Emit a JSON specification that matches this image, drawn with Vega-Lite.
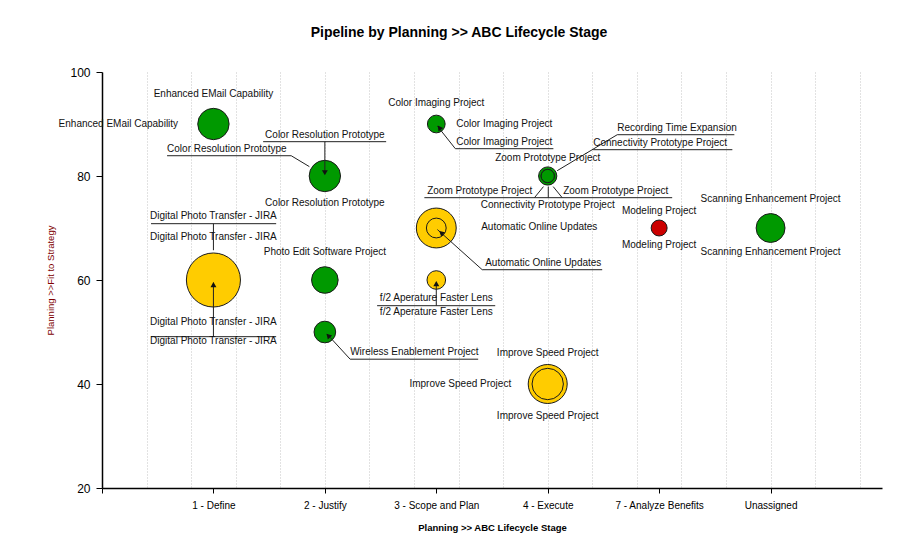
{
  "$schema": "https://vega.github.io/schema/vega-lite/v6.json",
  "width": 780,
  "height": 416,
  "autosize": {"type": "none"},
  "padding": {"left": 102, "top": 72, "right": 35, "bottom": 71},
  "background": "white",
  "title": {"text": "Pipeline by Planning  >> ABC Lifecycle Stage", "font": "Liberation Sans", "fontSize": 14, "fontWeight": "bold", "color": "black", "dx": -33, "offset": 26},
  "config": {"view": {"stroke": null}, "font": "Liberation Sans"},
  "datasets": {
    "projects": [
      {"project": "Enhanced EMail Capability", "stage": "1 - Define", "fit": 90, "status": "Green", "value": 313},
      {"project": "Color Resolution Prototype", "stage": "2 - Justify", "fit": 80, "status": "Green", "value": 313},
      {"project": "Digital Photo Transfer - JIRA", "stage": "1 - Define", "fit": 60, "status": "Yellow", "value": 930},
      {"project": "Photo Edit Software Project", "stage": "2 - Justify", "fit": 60, "status": "Green", "value": 225},
      {"project": "Wireless Enablement Project", "stage": "2 - Justify", "fit": 50, "status": "Green", "value": 149},
      {"project": "Color Imaging Project", "stage": "3 - Scope and Plan", "fit": 90, "status": "Green", "value": 100},
      {"project": "Automatic Online Updates", "stage": "3 - Scope and Plan", "fit": 70, "status": "Yellow", "value": 506},
      {"project": "Automatic Online Updates", "stage": "3 - Scope and Plan", "fit": 70, "status": "Yellow", "value": 125},
      {"project": "f/2 Aperature Faster Lens", "stage": "3 - Scope and Plan", "fit": 60, "status": "Yellow", "value": 110},
      {"project": "Zoom Prototype Project", "stage": "4 - Execute", "fit": 80, "status": "Green", "value": 106},
      {"project": "Connectivity Prototype Project", "stage": "4 - Execute", "fit": 80, "status": "Green", "value": 56},
      {"project": "Recording Time Expansion", "stage": "4 - Execute", "fit": 80, "status": "Green", "value": 56},
      {"project": "Improve Speed Project", "stage": "4 - Execute", "fit": 40, "status": "Yellow", "value": 484},
      {"project": "Improve Speed Project", "stage": "4 - Execute", "fit": 40, "status": "Yellow", "value": 313},
      {"project": "Modeling Project", "stage": "7 - Analyze Benefits", "fit": 70, "status": "Red", "value": 81},
      {"project": "Scanning Enhancement Project", "stage": "Unassigned", "fit": 70, "status": "Green", "value": 266}
    ],
    "labels": [
      {"text": "Enhanced EMail Capability", "x": 1, "y": 95.8, "anchor": "center"},
      {"text": "Color Resolution Prototype", "x": 2, "y": 87.9, "anchor": "center"},
      {"text": "Color Resolution Prototype", "x": 2, "y": 74.9, "anchor": "center"},
      {"text": "Digital Photo Transfer - JIRA", "x": 1, "y": 72.4, "anchor": "center"},
      {"text": "Digital Photo Transfer - JIRA", "x": 1, "y": 68.3, "anchor": "center"},
      {"text": "Digital Photo Transfer - JIRA", "x": 1, "y": 52.0, "anchor": "center"},
      {"text": "Digital Photo Transfer - JIRA", "x": 1, "y": 48.3, "anchor": "center"},
      {"text": "Photo Edit Software Project", "x": 2, "y": 65.3, "anchor": "center"},
      {"text": "Color Imaging Project", "x": 3, "y": 94.1, "anchor": "center"},
      {"text": "Zoom Prototype Project", "x": 4, "y": 83.5, "anchor": "center"},
      {"text": "Connectivity Prototype Project", "x": 4, "y": 74.5, "anchor": "center"},
      {"text": "Modeling Project", "x": 5, "y": 73.3, "anchor": "center"},
      {"text": "Modeling Project", "x": 5, "y": 66.8, "anchor": "center"},
      {"text": "Scanning Enhancement Project", "x": 6, "y": 75.6, "anchor": "center"},
      {"text": "Scanning Enhancement Project", "x": 6, "y": 65.4, "anchor": "center"},
      {"text": "f/2 Aperature Faster Lens", "x": 3, "y": 56.6, "anchor": "center"},
      {"text": "f/2 Aperature Faster Lens", "x": 3, "y": 53.9, "anchor": "center"},
      {"text": "Improve Speed Project", "x": 4, "y": 46.0, "anchor": "center"},
      {"text": "Improve Speed Project", "x": 4, "y": 33.9, "anchor": "center"},
      {"text": "Color Resolution Prototype", "x": 0.584, "y": 85.25, "anchor": "left"},
      {"text": "Wireless Enablement Project", "x": 2.227, "y": 46.2, "anchor": "left"},
      {"text": "Color Imaging Project", "x": 3.179, "y": 90.06, "anchor": "left"},
      {"text": "Color Imaging Project", "x": 3.179, "y": 86.6, "anchor": "left"},
      {"text": "Recording Time Expansion", "x": 4.624, "y": 89.3, "anchor": "left"},
      {"text": "Connectivity Prototype Project", "x": 4.408, "y": 86.4, "anchor": "left"},
      {"text": "Zoom Prototype Project", "x": 4.139, "y": 77.2, "anchor": "left"},
      {"text": "Automatic Online Updates", "x": 3.403, "y": 70.25, "anchor": "left"},
      {"text": "Automatic Online Updates", "x": 3.439, "y": 63.3, "anchor": "left"},
      {"text": "Enhanced EMail Capability", "x": 0.683, "y": 90, "anchor": "right"},
      {"text": "Zoom Prototype Project", "x": 3.861, "y": 77.2, "anchor": "right"},
      {"text": "Improve Speed Project", "x": 3.672, "y": 40, "anchor": "right"}
    ],
    "leaders": [
      {"x": 1.446, "x2": 2.55, "y": 86.6, "y2": 86.6},
      {"x": 2, "x2": 2, "y": 86.6, "y2": 80.6},
      {"x": 0.584, "x2": 1.698, "y": 83.9, "y2": 83.9},
      {"x": 1.698, "x2": 1.861, "y": 83.9, "y2": 81.8},
      {"x": 0.44, "x2": 1.563, "y": 70.83, "y2": 70.83},
      {"x": 1, "x2": 1, "y": 70.83, "y2": 65.73},
      {"x": 0.44, "x2": 1.563, "y": 49.1, "y2": 49.1},
      {"x": 1, "x2": 1, "y": 49.1, "y2": 59.5},
      {"x": 2.227, "x2": 3.376, "y": 44.77, "y2": 44.77},
      {"x": 2.227, "x2": 2.02, "y": 44.77, "y2": 49.6},
      {"x": 3.171, "x2": 4.051, "y": 85.25, "y2": 85.25},
      {"x": 3.171, "x2": 3.01, "y": 85.25, "y2": 89.6},
      {"x": 4.624, "x2": 5.675, "y": 87.94, "y2": 87.94},
      {"x": 4.624, "x2": 4.085, "y": 87.94, "y2": 81.02},
      {"x": 4.408, "x2": 5.657, "y": 85.06, "y2": 85.06},
      {"x": 2.893, "x2": 5.117, "y": 75.83, "y2": 75.83},
      {"x": 3.881, "x2": 3.962, "y": 75.83, "y2": 77.96},
      {"x": 4.13, "x2": 4.049, "y": 75.83, "y2": 77.96},
      {"x": 4.005, "x2": 4.005, "y": 75.83, "y2": 77.96},
      {"x": 3.412, "x2": 4.489, "y": 61.98, "y2": 61.98},
      {"x": 3.412, "x2": 3.01, "y": 61.98, "y2": 69.7},
      {"x": 2.469, "x2": 3.529, "y": 55.06, "y2": 55.06},
      {"x": 3, "x2": 3, "y": 55.06, "y2": 59.5}
    ],
    "arrows": [
      {"x": 2, "y": 80.63, "angle": 180},
      {"x": 1, "y": 59.1, "angle": 0},
      {"x": 3, "y": 59.3, "angle": 0},
      {"x": 2.03, "y": 49.3, "angle": 316},
      {"x": 3.027, "y": 89.3, "angle": 323},
      {"x": 3.044, "y": 69.1, "angle": 312}
    ]
  },
  "resolve": {"scale": {"x": "independent"}, "axis": {"x": "independent"}},
  "layer": [
    {
      "data": {"name": "projects"},
      "mark": {"type": "point", "shape": "circle", "filled": true, "stroke": "#1a1a1a", "strokeWidth": 1, "opacity": 1},
      "encoding": {
        "x": {
          "field": "stage", "type": "ordinal",
          "scale": {"type": "point", "padding": 1},
          "axis": {"orient": "bottom", "title": "Planning >> ABC Lifecycle Stage", "labelAngle": 0, "labelFont": "Liberation Sans", "labelFontSize": 10, "labelColor": "black", "labelPadding": 7, "tickSize": 5, "tickColor": "black", "domainColor": "black", "domainWidth": 1.5, "grid": false, "titleFont": "Liberation Sans", "titleFontSize": 9.5, "titleFontWeight": "bold", "titleColor": "black", "titlePadding": 12}
        },
        "y": {
          "field": "fit", "type": "quantitative",
          "scale": {"domain": [20, 100], "nice": false, "zero": false},
          "axis": {"title": "Planning >>Fit to Strategy", "values": [20, 40, 60, 80, 100], "grid": false, "labelFont": "Liberation Sans", "labelFontSize": 12, "labelColor": "black", "labelPadding": 6, "tickSize": 6, "tickColor": "black", "domainColor": "black", "domainWidth": 1.5, "titleFont": "Liberation Sans", "titleFontSize": 9.5, "titleFontWeight": "normal", "titleColor": "#800000", "titlePadding": 14}
        },
        "size": {"field": "value", "type": "quantitative", "scale": {"type": "linear", "domain": [0, 1000], "range": [0, 3141.6], "zero": true}, "legend": null},
        "color": {"field": "status", "type": "nominal", "scale": {"domain": ["Green", "Yellow", "Red"], "range": ["#009900", "#FFCC00", "#CC0000"]}, "legend": null}
      }
    },
    {
      "layer": [
        {
          "data": {"name": "leaders"},
          "mark": {"type": "rule", "color": "#222222", "strokeWidth": 1},
          "encoding": {
            "x": {
              "field": "x", "type": "quantitative",
              "scale": {"domain": [0, 7], "nice": false, "zero": false},
              "axis": {"orient": "bottom", "title": null, "labels": false, "domain": false, "grid": true, "gridColor": "#c4c4c4", "gridDash": [1, 2], "gridWidth": 1,
                "values": [0, 0.2, 0.4, 0.6, 0.8, 1, 1.2, 1.4, 1.6, 1.8, 2, 2.2, 2.4, 2.6, 2.8, 3, 3.2, 3.4, 3.6, 3.8, 4, 4.2, 4.4, 4.6, 4.8, 5, 5.2, 5.4, 5.6, 5.8, 6, 6.2, 6.4, 6.6, 6.8, 7],
                "tickSize": 5, "tickColor": "black",
                "tickOpacity": {"condition": {"test": "datum.value < 0.01 || datum.value > 6.99", "value": 1}, "value": 0}}
            },
            "x2": {"field": "x2"},
            "y": {"field": "y", "type": "quantitative"},
            "y2": {"field": "y2"}
          }
        },
        {
          "data": {"name": "arrows"},
          "mark": {"type": "point", "shape": "triangle-up", "filled": true, "color": "#111111", "size": 35, "opacity": 1},
          "encoding": {
            "x": {"field": "x", "type": "quantitative"},
            "y": {"field": "y", "type": "quantitative"},
            "angle": {"field": "angle", "type": "quantitative", "scale": null}
          }
        },
        {
          "data": {"name": "labels"},
          "transform": [{"filter": "datum.anchor === 'center'"}],
          "mark": {"type": "text", "align": "center", "baseline": "middle", "font": "Liberation Sans", "fontSize": 10, "color": "#111111"},
          "encoding": {
            "x": {"field": "x", "type": "quantitative"},
            "y": {"field": "y", "type": "quantitative"},
            "text": {"field": "text"}
          }
        },
        {
          "data": {"name": "labels"},
          "transform": [{"filter": "datum.anchor === 'left'"}],
          "mark": {"type": "text", "align": "left", "baseline": "middle", "font": "Liberation Sans", "fontSize": 10, "color": "#111111"},
          "encoding": {
            "x": {"field": "x", "type": "quantitative"},
            "y": {"field": "y", "type": "quantitative"},
            "text": {"field": "text"}
          }
        },
        {
          "data": {"name": "labels"},
          "transform": [{"filter": "datum.anchor === 'right'"}],
          "mark": {"type": "text", "align": "right", "baseline": "middle", "font": "Liberation Sans", "fontSize": 10, "color": "#111111"},
          "encoding": {
            "x": {"field": "x", "type": "quantitative"},
            "y": {"field": "y", "type": "quantitative"},
            "text": {"field": "text"}
          }
        }
      ]
    }
  ]
}
